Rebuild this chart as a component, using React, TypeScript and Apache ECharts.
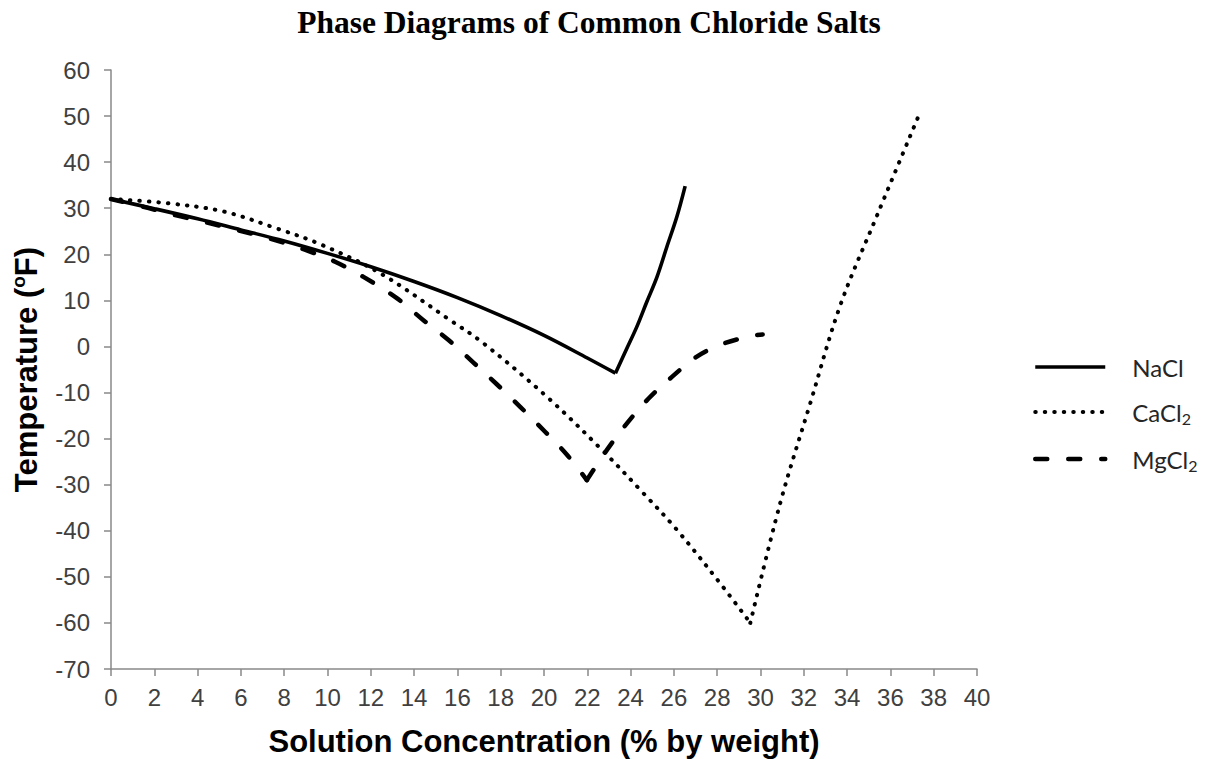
import React, { useEffect, useRef } from 'react';
import * as echarts from 'echarts';

// Concentration (% by weight) and freezing temperature (°F)
const naclX = [0, 2, 4, 6, 8, 10, 12, 14, 16, 18, 20, 22, 23.3, 23.83, 24.29, 24.75, 25.22, 25.68, 26.14, 26.52];
const naclY = [32, 29.9, 27.7, 25.3, 22.9, 20.2, 17.3, 14.1, 10.6, 6.7, 2.4, -2.5, -5.8, -0.4, 4.3, 9.7, 15.1, 21.7, 28.2, 34.8];

const caclX = [0, 2.57, 5.19, 7.66, 9.66, 12.43, 15.67, 17.2, 20.13, 22.75, 24.52, 26.14, 28.22, 29.53, 30.91, 32.3, 33.69, 35.38, 37.38];
const caclY = [32, 31.1, 29.3, 25.6, 22.2, 15.9, 5.7, 0.7, -10.9, -22.8, -31.5, -39.8, -51.9, -60, -34, -12.3, 9, 28.4, 50.9];

const mgclX = [0, 1.5, 2.96, 4.42, 5.96, 7.42, 8.89, 10.35, 11.66, 13.2, 14.43, 15.59, 16.74, 17.82, 18.9, 20.05, 21.06, 21.98, 22.9, 23.83, 24.83, 25.91, 27.06, 28.22, 29.6, 30.1];
const mgclY = [32, 30.3, 28.5, 26.9, 25.1, 23.3, 21.1, 18.4, 15.1, 10.5, 5.7, 1.4, -3.5, -8.2, -13.1, -18.5, -23.5, -29, -22.5, -16.7, -11.3, -6.6, -2.2, 0.5, 2.3, 2.6];

const seriesNames = ['NaCl', 'CaCl₂', 'MgCl₂'];
const titleText = 'Phase Diagrams of Common Chloride Salts';
const xAxisTitle = 'Solution Concentration (% by weight)';

const X_MIN = 0, X_MAX = 40, X_STEP = 2;
const Y_MIN = -70, Y_MAX = 60, Y_STEP = 10;

const zip = (xs: number[], ys: number[]) => xs.map((x, i) => [x, ys[i]]);

// split a curve at its eutectic (lowest) point so each branch can be smoothed while the corner stays sharp
const splitAtMin = (pts: number[][]) => {
  let k = 0;
  pts.forEach((p, i) => { if (p[1] < pts[k][1]) k = i; });
  return [pts.slice(0, k + 1), pts.slice(k)];
};

const SANS = '"Liberation Sans", Arial, sans-serif';
const LEG = 'Lato, "Noto Sans", sans-serif';
const AXIS_GRAY = '#898989';
const LABEL = '#404040';

const solidStyle = { color: '#000', width: 3.6, type: 'solid' as const, join: 'miter' as const };
const dottedStyle = { color: '#000', width: 4, type: [0.5, 9], cap: 'round' as const };
const dashedStyle = { color: '#000', width: 4.5, type: [12, 21], cap: 'round' as const, join: 'miter' as const };

export default function App() {
  const ref = useRef<HTMLDivElement>(null);

  useEffect(() => {
    if (!ref.current) return;
    const chart = echarts.init(ref.current, undefined, { renderer: 'svg' });
    const styles = [solidStyle, dottedStyle, dashedStyle];
    const datasets = [zip(naclX, naclY), zip(caclX, caclY), zip(mgclX, mgclY)];

    const series: any[] = [];
    seriesNames.forEach((n, i) => {
      splitAtMin(datasets[i]).forEach((branch, b) => {
        series.push({
          name: n,
          id: n + '-' + b,
          type: 'line',
          data: branch,
          symbol: 'none',
          showSymbol: false,
          smooth: 0.35,
          clip: false,
          lineStyle: styles[i],
          z: 3 - i,
        });
      });
    });

    chart.setOption({
      animation: false,
      backgroundColor: '#fff',
      title: {
        text: titleText,
        left: 589,
        top: 6,
        padding: 0,
        textAlign: 'center',
        textStyle: {
          fontFamily: '"Liberation Serif", "Times New Roman", serif',
          fontWeight: 'bold',
          fontSize: 31.5,
          color: '#000',
        },
      },
      grid: { left: 111, right: 238, top: 70, bottom: 90, containLabel: false, outerBoundsMode: 'none' },
      legend: {
        orient: 'vertical',
        left: 1033,
        top: 355,
        padding: 0,
        itemWidth: 70,
        itemHeight: 26,
        itemGap: 21,
        selectedMode: false,
        formatter: (name: string) =>
          name.indexOf('₂') >= 0 ? '{a|' + name.replace('₂', '') + '}{s|2}' : '{a|' + name + '}',
        textStyle: {
          padding: [0, 0, 0, 22],
          rich: {
            a: { fontFamily: LEG, fontSize: 24, color: '#262626', lineHeight: 28 },
            s: { fontFamily: LEG, fontSize: 16, color: '#262626', lineHeight: 16, verticalAlign: 'bottom' },
          },
        },
        data: seriesNames.map((n, i) => ({
          name: n,
          lineStyle: styles[i],
          itemStyle: { opacity: 0 },
        })),
      },
      xAxis: {
        type: 'value',
        min: X_MIN,
        max: X_MAX,
        interval: X_STEP,
        name: xAxisTitle,
        nameLocation: 'middle',
        nameGap: 57,
        nameTextStyle: { fontFamily: SANS, fontWeight: 'bold', fontSize: 31, lineHeight: 31, color: '#000' },
        axisLine: { show: true, onZero: false, lineStyle: { color: AXIS_GRAY, width: 1.5 } },
        axisTick: { show: true, length: 7, lineStyle: { color: AXIS_GRAY, width: 1.5 } },
        axisLabel: { fontFamily: SANS, fontSize: 24, color: LABEL, margin: 16 },
        splitLine: { show: false },
      },
      yAxis: {
        type: 'value',
        min: Y_MIN,
        max: Y_MAX,
        interval: Y_STEP,
        name: '{a|Temperature (}{s|o}{a|F)}',
        nameLocation: 'middle',
        nameGap: 68,
        nameTextStyle: {
          rich: {
            a: { fontFamily: SANS, fontWeight: 'bold', fontSize: 31, color: '#000', lineHeight: 34 },
            s: { fontFamily: SANS, fontWeight: 'bold', fontSize: 19, color: '#000', lineHeight: 19, verticalAlign: 'top' },
          },
        },
        axisLine: { show: true, onZero: false, lineStyle: { color: AXIS_GRAY, width: 1.5 } },
        axisTick: { show: true, length: 7, lineStyle: { color: AXIS_GRAY, width: 1.5 } },
        axisLabel: { fontFamily: SANS, fontSize: 24, color: LABEL, margin: 21 },
        splitLine: { show: false },
      },
      series,
    });

    return () => chart.dispose();
  }, []);

  return (
    <div
      ref={ref}
      style={{ position: 'fixed', left: 0, top: 0, width: 1215, height: 759, background: '#fff' }}
    />
  );
}
